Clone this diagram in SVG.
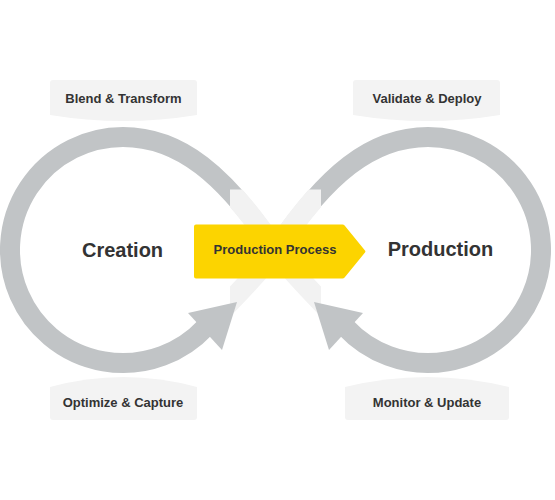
<svg xmlns="http://www.w3.org/2000/svg" xmlns:xlink="http://www.w3.org/1999/xlink" width="555" height="500" viewBox="0 0 555 500">
  <defs>
    <style>
      .band { fill: none; stroke: #c1c4c6; stroke-width: 20; }
      .fade { fill: none; stroke: #f2f2f2; stroke-width: 21; }
      .head { fill: #c1c4c6; }
      .label-box { fill: #f3f3f3; }
      .label { font-family: "Liberation Sans", Arial, sans-serif; font-weight: bold; font-size: 13px; fill: #333333; text-anchor: middle; }
      .big { font-family: "Liberation Sans", Arial, sans-serif; font-weight: bold; font-size: 20px; fill: #333333; text-anchor: middle; }
    </style>
    <clipPath id="cross">
      <rect x="230" y="189.5" width="91" height="150"/>
    </clipPath>
    <g id="half">
      <path class="band" d="M 275.5 250 C 225 175, 180 137, 123 137 A 113 113 0 1 0 205.6 327.1"/>
      <g clip-path="url(#cross)">
        <path class="fade" d="M 275.5 250 C 225 175, 180 137, 123 137"/>
        <path class="fade" d="M 275.5 250 C 258 275, 226 305, 205.6 327.1"/>
      </g>
      <polygon class="head" points="237,302 188,313 222,350"/>
    </g>
  </defs>

  <rect width="555" height="500" fill="#ffffff"/>

  <g id="connectors">
    <use xlink:href="#half" href="#half"/>
    <use xlink:href="#half" href="#half" transform="translate(551,0) scale(-1,1)"/>
  </g>

  <g id="node-process">
    <path d="M 196 224.5 H 342.5 Q 343.8 224.5 344.6 225.5 L 365 250.5 Q 365.8 251.5 365 252.5 L 344.6 277.5 Q 343.8 278.5 342.5 278.5 H 196 Q 194 278.5 194 276.5 V 226.5 Q 194 224.5 196 224.5 Z" fill="#fcd400"/>
    <text class="label" x="275" y="254">Production Process</text>
  </g>

  <g id="node-creation">
    <text class="big" x="122.5" y="256.5">Creation</text>
  </g>

  <g id="node-production">
    <text class="big" x="440.5" y="256">Production</text>
  </g>

  <g id="node-blend">
    <path class="label-box" d="M 53 80 H 194 Q 197 80 197 83 V 115 Q 123.5 127 50 115 V 83 Q 50 80 53 80 Z"/>
    <text class="label" x="123.5" y="102.5">Blend &amp; Transform</text>
  </g>

  <g id="node-validate">
    <path class="label-box" d="M 356 80 H 497 Q 500 80 500 83 V 115 Q 426.5 127 353 115 V 83 Q 353 80 356 80 Z"/>
    <text class="label" x="427" y="102.5">Validate &amp; Deploy</text>
  </g>

  <g id="node-optimize">
    <path class="label-box" d="M 50 387 Q 123.5 367 197 387 V 417 Q 197 420 194 420 H 53 Q 50 420 50 417 Z"/>
    <text class="label" x="123" y="407">Optimize &amp; Capture</text>
  </g>

  <g id="node-monitor">
    <path class="label-box" d="M 345 387 Q 427 367 509 387 V 417 Q 509 420 506 420 H 348 Q 345 420 345 417 Z"/>
    <text class="label" x="427" y="407">Monitor &amp; Update</text>
  </g>
</svg>
